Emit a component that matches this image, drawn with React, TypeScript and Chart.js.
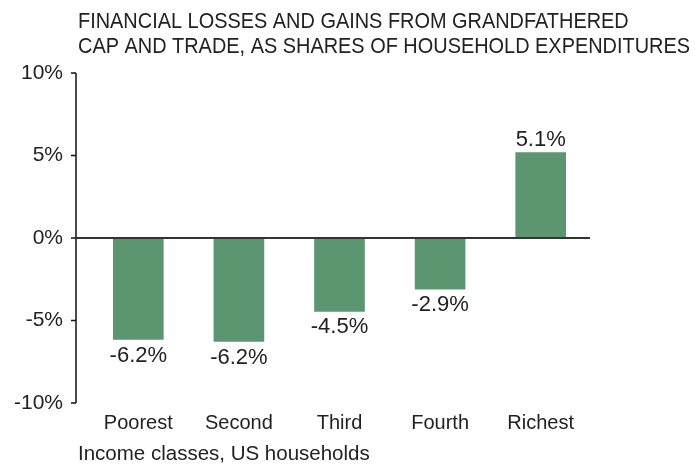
import React, { useEffect, useRef } from "react";
import { Chart, registerables } from "chart.js";

Chart.register(...registerables);

const categories = ["Poorest", "Second", "Third", "Fourth", "Richest"];
const values = [-6.15, -6.27, -4.45, -3.1, 5.18];
const valueLabels = ["-6.2%", "-6.2%", "-4.5%", "-2.9%", "5.1%"];
const yTicks = [10, 5, 0, -5, -10];
const titleLines = [
  "FINANCIAL LOSSES AND GAINS FROM GRANDFATHERED",
  "CAP AND TRADE, AS SHARES OF HOUSEHOLD EXPENDITURES",
];
const xAxisTitle = "Income classes, US households";

const BAR_COLOR = "#5b9670";
const TEXT = "#222222";
const SANS = "'Liberation Sans', Arial, sans-serif";

const decorPlugin = {
  id: "decor",
  afterDatasetsDraw(chart: any) {
    const { ctx, chartArea, scales } = chart;
    const y = scales.y;
    const axisX = chartArea.left - 12;
    ctx.save();
    // y axis line + ticks
    ctx.strokeStyle = "#111";
    ctx.lineWidth = 1.5;
    ctx.beginPath();
    ctx.moveTo(axisX, y.getPixelForValue(10));
    ctx.lineTo(axisX, y.getPixelForValue(-10));
    yTicks.forEach((t) => {
      const py = y.getPixelForValue(t);
      ctx.moveTo(axisX - 5, py);
      ctx.lineTo(axisX, py);
    });
    ctx.stroke();
    // zero line
    ctx.strokeStyle = "#333";
    ctx.lineWidth = 1.8;
    ctx.beginPath();
    const zy = y.getPixelForValue(0);
    ctx.moveTo(axisX, zy);
    ctx.lineTo(chartArea.right - 1, zy);
    ctx.stroke();
    // value labels
    const meta = chart.getDatasetMeta(0);
    ctx.fillStyle = TEXT;
    ctx.font = `22px ${SANS}`;
    ctx.textAlign = "center";
    meta.data.forEach((bar: any, i: number) => {
      const v = values[i];
      if (v >= 0) {
        ctx.textBaseline = "bottom";
        ctx.fillText(valueLabels[i], bar.x, bar.y - 2);
      } else {
        ctx.textBaseline = "top";
        ctx.fillText(valueLabels[i], bar.x, bar.y + 5);
      }
    });
    // title (condensed via horizontal scaling)
    ctx.textAlign = "left";
    ctx.textBaseline = "alphabetic";
    ctx.font = `22px ${SANS}`;
    const w2 = ctx.measureText(titleLines[1]).width;
    const sx = 612 / w2;
    ctx.save();
    ctx.translate(78, 0);
    ctx.scale(sx, 1);
    ctx.fillText(titleLines[0], 0, 28);
    ctx.fillText(titleLines[1], 0, 53);
    ctx.restore();
    // x axis title
    ctx.font = `20.5px ${SANS}`;
    ctx.fillText(xAxisTitle, 78, 460);
    ctx.restore();
  },
};

export default function App() {
  const ref = useRef<HTMLCanvasElement>(null);
  useEffect(() => {
    if (!ref.current) return;
    const chart = new Chart(ref.current, {
      type: "bar",
      data: {
        labels: categories,
        datasets: [
          {
            data: values,
            backgroundColor: BAR_COLOR,
            barThickness: 50,
          },
        ],
      },
      options: {
        animation: false,
        responsive: false,
        maintainAspectRatio: false,
        layout: { padding: { top: 73, right: 104, bottom: 0, left: 0 } },
        plugins: { legend: { display: false }, tooltip: { enabled: false } },
        scales: {
          x: {
            grid: { display: false },
            border: { display: false },
            ticks: { color: TEXT, font: { size: 20, family: SANS }, padding: 0 },
            afterFit: (s: any) => {
              s.height = 62;
            },
          },
          y: {
            min: -10,
            max: 10,
            grid: { display: false },
            border: { display: false },
            ticks: {
              stepSize: 5,
              color: TEXT,
              font: { size: 21, family: SANS },
              padding: 17,
              callback: (v: any) => `${v}%`,
            },
            afterFit: (s: any) => {
              s.width = 88;
            },
          },
        },
      },
      plugins: [decorPlugin],
    });
    return () => chart.destroy();
  }, []);
  return (
    <div style={{ position: "fixed", left: 0, top: 0, width: 695, height: 465, background: "#fff" }}>
      <canvas ref={ref} width={695} height={465} />
    </div>
  );
}
